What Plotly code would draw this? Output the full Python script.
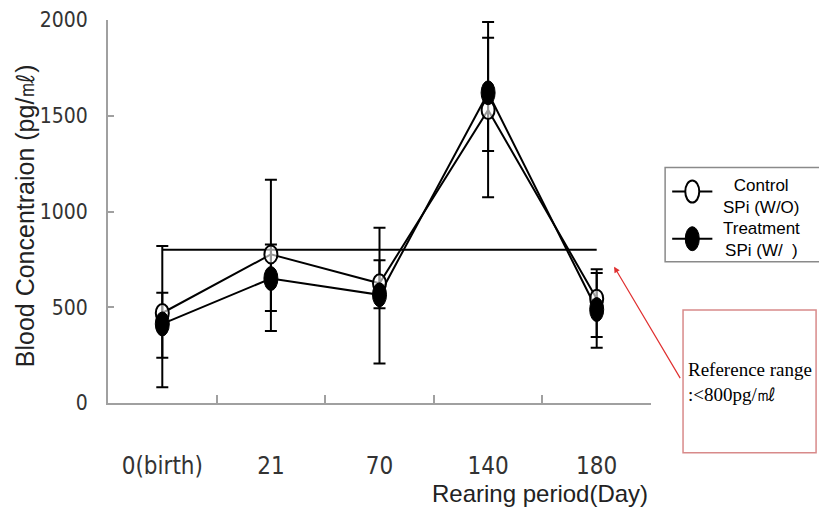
import plotly.graph_objects as go

categories = ["0(birth)", "21", "70", "140", "180"]
control_mean = [470, 776, 625, 1530, 545]
control_err_plus = [350, 390, 120, 460, 154]
control_err_minus = [388, 400, 130, 455, 201]
treat_mean = [413, 650, 565, 1620, 488]
treat_err_plus = [163, 178, 350, 287, 191]
treat_err_minus = [177, 170, 359, 304, 200]
reference_value = [800, 800, 800, 800, 800]
y_ticks = [0, 500, 1000, 1500, 2000]

BLACK = "#000000"
AXIS_GRAY = "#a0a0a0"
TICK_FONT = "Liberation Sans Narrow, DejaVu Sans Condensed, Arial Narrow, Liberation Sans"

fig = go.Figure()

# reference line
fig.add_trace(go.Scatter(x=categories, y=reference_value, mode="lines",
                         line=dict(color=BLACK, width=2), showlegend=False, hoverinfo="skip"))

for mean, ep, em in [(control_mean, control_err_plus, control_err_minus),
                     (treat_mean, treat_err_plus, treat_err_minus)]:
    fig.add_trace(go.Scatter(
        x=categories, y=mean, mode="lines",
        line=dict(color=BLACK, width=2),
        error_y=dict(type="data", symmetric=False, array=ep, arrayminus=em,
                     color=BLACK, thickness=2, width=6),
        showlegend=False, hoverinfo="skip", cliponaxis=False))

shapes = []
# data ellipses (pixel-sized, anchored on data through axes)
for i, v in enumerate(control_mean):
    shapes.append(dict(type="circle", xref="x", yref="y", xsizemode="pixel", ysizemode="pixel",
                       xanchor=i, yanchor=v, x0=-6.5, x1=6.5, y0=-9, y1=9,
                       line=dict(color=BLACK, width=2), fillcolor="rgba(255,255,255,0.6)"))
for i, v in enumerate(treat_mean):
    shapes.append(dict(type="circle", xref="x", yref="y", xsizemode="pixel", ysizemode="pixel",
                       xanchor=i, yanchor=v, x0=-7, x1=7, y0=-12, y1=12,
                       line=dict(color=BLACK, width=1), fillcolor=BLACK))

# legend box
shapes.append(dict(type="rect", xref="paper", yref="paper", x0=1.026, x1=1.318, y0=0.369, y1=0.615,
                   line=dict(color="#8a8a8a", width=1.5), fillcolor="white"))
# legend symbols
for yy, filled in [(0.552, False), (0.429, True)]:
    shapes.append(dict(type="line", xref="paper", yref="paper", x0=1.039, x1=1.113, y0=yy, y1=yy,
                       line=dict(color=BLACK, width=2)))
    if filled:
        shapes.append(dict(type="circle", xref="paper", yref="paper", xsizemode="pixel", ysizemode="pixel",
                           xanchor=1.076, yanchor=yy, x0=-7, x1=7, y0=-12, y1=12,
                           line=dict(color=BLACK, width=1), fillcolor=BLACK))
    else:
        shapes.append(dict(type="circle", xref="paper", yref="paper", xsizemode="pixel", ysizemode="pixel",
                           xanchor=1.076, yanchor=yy, x0=-7, x1=7, y0=-11, y1=11,
                           line=dict(color=BLACK, width=2), fillcolor="white"))

# reference range box
shapes.append(dict(type="rect", xref="paper", yref="paper", x0=1.059, x1=1.304, y0=-0.13, y1=0.243,
                   line=dict(color="#d88a8a", width=1.5), fillcolor="white"))

annotations = [
    dict(xref="paper", yref="paper", x=1.203, y=0.540, xanchor="center", yanchor="middle",
         text="Control<br>SPi (W/O)", showarrow=False,
         font=dict(family="Liberation Sans, Arial", size=17, color=BLACK), align="center"),
    dict(xref="paper", yref="paper", x=1.203, y=0.426, xanchor="center", yanchor="middle",
         text="Treatment<br>SPi (W/  )", showarrow=False,
         font=dict(family="Liberation Sans, Arial", size=17, color=BLACK), align="center"),
    dict(xref="paper", yref="paper", x=1.064, y=0.055, xanchor="left", yanchor="middle",
         text="Reference range<br>:<800pg/㎖", showarrow=False, align="left",
         font=dict(family="Liberation Serif, Times New Roman, serif", size=19, color=BLACK)),
    dict(xref="paper", yref="paper", x=0.932, y=0.356, text="", showarrow=True,
         axref="pixel", ayref="pixel", ax=67, ay=113, arrowhead=2, arrowsize=1, arrowwidth=1.2,
         arrowcolor="#e03030"),
    dict(xref="paper", yref="paper", x=-0.153, y=0.49, xanchor="center", yanchor="middle",
         text="Blood Concentraion (pg/㎖)", textangle=-90, showarrow=False,
         font=dict(family="Liberation Sans, Arial", size=25, color="#222222")),
    dict(xref="paper", yref="paper", x=0.796, y=-0.237, xanchor="center", yanchor="middle",
         text="Rearing period(Day)", showarrow=False,
         font=dict(family="Liberation Sans, Arial", size=24, color="#222222")),
]

# the page body adds an 8px offset, so the figure is 8px smaller and margins shifted
fig.update_layout(
    width=819, height=508,
    margin=dict(l=100, r=176, t=12, b=113),
    paper_bgcolor="white", plot_bgcolor="white",
    shapes=shapes, annotations=annotations, showlegend=False,
    xaxis=dict(type="category", range=[-0.5, 4.5], tickson="boundaries", ticks="inside", ticklen=8,
               tickcolor=AXIS_GRAY, tickwidth=1.5, showline=True, linecolor=AXIS_GRAY, linewidth=2,
               showgrid=False, zeroline=False, automargin=False, ticklabelstandoff=40,
               tickfont=dict(family=TICK_FONT, size=24, color="#333333")),
    yaxis=dict(range=[0, 2000], tickvals=y_ticks, ticks="inside", ticklen=6, tickcolor=AXIS_GRAY,
               tickwidth=1.5, showline=True, linecolor=AXIS_GRAY, linewidth=2, showgrid=False,
               zeroline=False, ticklabelstandoff=14, automargin=False, ticklabeloverflow="allow",
               tickfont=dict(family=TICK_FONT, size=21, color="#333333")),
)

fig.write_html("out.html")
